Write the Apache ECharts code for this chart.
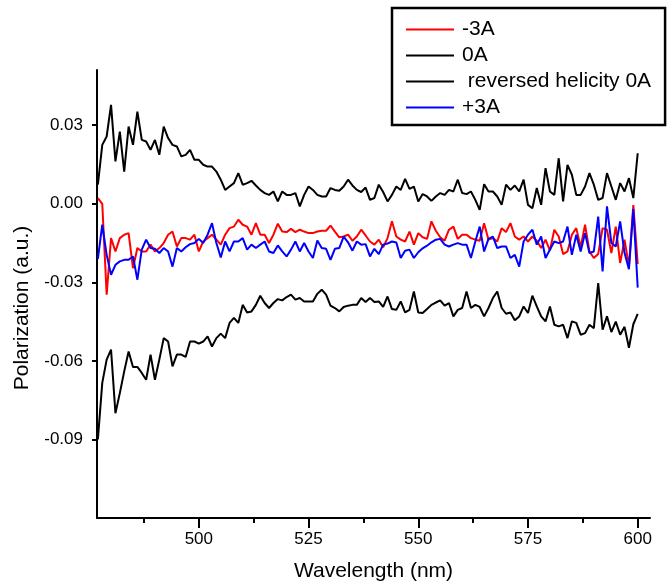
<!DOCTYPE html>
<html>
<head>
<meta charset="utf-8">
<script src="https://cdn.jsdelivr.net/npm/echarts@6/dist/echarts.min.js"></script>
<style>html,body{margin:0;padding:0;background:#fff}#chart{width:668px;height:588px}</style>
</head>
<body>
<div id="chart"></div>
<script>
const wavelengths = [477,478,479,480,481,482,483,484,485,486,487,488,489,490,491,492,493,494,495,496,497,498,499,500,
501,502,503,504,505,506,507,508,509,510,511,512,513,514,515,516,517,518,519,520,521,522,523,524,525,
526,527,528,529,530,531,532,533,534,535,536,537,538,539,540,541,542,543,544,545,546,547,548,549,550,
551,552,553,554,555,556,557,558,559,560,561,562,563,564,565,566,567,568,569,570,571,572,573,574,575,
576,577,578,579,580,581,582,583,584,585,586,587,588,589,590,591,592,593,594,595,596,597,598,599,600];

const minus3A = [0.0022,0.0000,-0.0347,-0.0131,-0.0182,-0.0131,-0.0118,-0.0112,-0.0246,-0.0169,-0.0182,-0.0182,-0.0156,-0.0182,-0.0169,-0.0150,-0.0118,-0.0106,-0.0163,-0.0131,-0.0131,-0.0137,-0.0118,-0.0182,
-0.0144,-0.0131,-0.0118,-0.0137,-0.0156,-0.0118,-0.0093,-0.0087,-0.0061,-0.0080,-0.0087,-0.0118,-0.0074,-0.0118,-0.0118,
-0.0150,-0.0118,-0.0076,-0.0106,-0.0108,-0.0096,-0.0108,-0.0099,-0.0106,-0.0112,-0.0112,-0.0106,-0.0103,-0.0103,-0.0083,-0.0106,-0.0128,-0.0125,-0.0118,-0.0141,-0.0125,-0.0099,-0.0121,-0.0144,-0.0156,-0.0137,-0.0166,-0.0131,-0.0067,-0.0125,-0.0137,-0.0144,-0.0106,-0.0156,-0.0112,-0.0128,-0.0134,-0.0067,
-0.0103,-0.0128,-0.0141,-0.0099,-0.0087,-0.0134,-0.0118,-0.0118,-0.0131,-0.0137,-0.0141,-0.0074,-0.0137,-0.0131,-0.0144,-0.0093,-0.0108,-0.0074,-0.0125,-0.0137,-0.0125,-0.0144,-0.0125,-0.0141,-0.0169,-0.0137,-0.0179,-0.0099,-0.0125,-0.0192,-0.0182,-0.0118,-0.0093,-0.0166,-0.0080,-0.0182,-0.0207,-0.0192,-0.0093,
-0.0099,-0.0188,-0.0087,-0.0226,-0.0137,-0.0239,-0.0005,-0.0230];

const zeroA = [0.0073,0.0225,0.0257,0.0378,0.0162,0.0276,0.0123,0.0295,0.0225,0.0352,0.0244,0.0238,0.0206,0.0244,0.0187,0.0295,0.0251,0.0225,0.0219,0.0181,0.0187,0.0206,0.0168,0.0168,
0.0149,0.0142,0.0142,0.0123,0.0092,0.0053,0.0066,0.0079,0.0117,0.0073,0.0079,0.0088,0.0070,0.0053,0.0041,
0.0034,0.0047,0.0009,0.0047,0.0034,0.0034,0.0041,-0.0010,0.0034,0.0066,0.0053,0.0034,0.0028,0.0028,0.0060,0.0053,0.0050,0.0066,0.0092,0.0070,0.0053,0.0045,0.0062,0.0015,0.0022,0.0073,0.0045,0.0009,0.0034,0.0066,0.0053,0.0095,0.0057,0.0066,0.0009,0.0037,0.0028,0.0011,
0.0028,0.0041,0.0034,0.0053,0.0047,0.0092,0.0041,0.0037,0.0047,0.0015,-0.0023,0.0075,0.0047,0.0047,0.0028,-0.0004,0.0073,0.0053,0.0070,0.0047,0.0092,-0.0004,-0.0017,0.0060,-0.0004,0.0136,0.0047,0.0034,0.0174,0.0009,0.0149,0.0111,0.0034,0.0034,0.0066,0.0117,0.0073,0.0015,0.0022,
0.0117,0.0066,0.0015,0.0079,0.0047,0.0098,0.0022,0.0193];

const reversed0A = [-0.0900,-0.0684,-0.0595,-0.0557,-0.0800,-0.0723,-0.0640,-0.0564,-0.0623,-0.0623,-0.0646,-0.0672,-0.0576,-0.0672,-0.0595,-0.0513,-0.0526,-0.0621,-0.0576,-0.0576,-0.0585,-0.0526,-0.0526,-0.0534,
-0.0526,-0.0506,-0.0545,-0.0513,-0.0496,-0.0513,-0.0455,-0.0436,-0.0455,-0.0386,-0.0415,-0.0411,-0.0386,-0.0351,-0.0379,
-0.0398,-0.0379,-0.0364,-0.0369,-0.0356,-0.0347,-0.0366,-0.0360,-0.0373,-0.0373,-0.0373,-0.0344,-0.0328,-0.0347,-0.0389,-0.0398,-0.0411,-0.0394,-0.0389,-0.0386,-0.0386,-0.0360,-0.0375,-0.0360,-0.0375,-0.0373,-0.0394,-0.0354,-0.0402,-0.0405,-0.0373,-0.0415,-0.0405,-0.0335,-0.0415,-0.0417,-0.0402,-0.0386,
-0.0377,-0.0369,-0.0389,-0.0379,-0.0430,-0.0405,-0.0398,-0.0335,-0.0398,-0.0386,-0.0394,-0.0430,-0.0398,-0.0360,-0.0335,-0.0398,-0.0420,-0.0415,-0.0445,-0.0430,-0.0392,-0.0417,-0.0351,-0.0392,-0.0430,-0.0449,-0.0392,-0.0462,-0.0468,-0.0462,-0.0513,-0.0449,-0.0455,-0.0500,-0.0494,-0.0462,-0.0475,-0.0303,-0.0481,
-0.0430,-0.0490,-0.0450,-0.0500,-0.0470,-0.0550,-0.0460,-0.0420];

const plus3A = [-0.0210,-0.0080,-0.0195,-0.0271,-0.0233,-0.0220,-0.0214,-0.0214,-0.0201,-0.0290,-0.0175,-0.0137,-0.0169,-0.0172,-0.0188,-0.0169,-0.0182,-0.0240,-0.0169,-0.0182,-0.0166,-0.0154,-0.0150,-0.0134,
-0.0150,-0.0118,-0.0074,-0.0150,-0.0205,-0.0144,-0.0182,-0.0144,-0.0144,-0.0131,-0.0175,-0.0156,-0.0169,-0.0156,-0.0144,
-0.0182,-0.0188,-0.0159,-0.0182,-0.0201,-0.0175,-0.0144,-0.0182,-0.0150,-0.0182,-0.0207,-0.0140,-0.0169,-0.0172,-0.0214,-0.0172,-0.0169,-0.0125,-0.0147,-0.0179,-0.0144,-0.0156,-0.0154,-0.0201,-0.0172,-0.0192,-0.0156,-0.0152,-0.0144,-0.0148,-0.0207,-0.0179,-0.0175,-0.0207,-0.0185,-0.0170,-0.0160,-0.0147,
-0.0137,-0.0134,-0.0156,-0.0163,-0.0156,-0.0150,-0.0156,-0.0156,-0.0207,-0.0144,-0.0087,-0.0182,-0.0134,-0.0125,-0.0169,-0.0163,-0.0163,-0.0207,-0.0195,-0.0240,-0.0144,-0.0118,-0.0099,-0.0156,-0.0125,-0.0207,-0.0175,-0.0144,-0.0150,-0.0144,-0.0087,-0.0195,-0.0118,-0.0182,-0.0112,-0.0188,-0.0182,-0.0049,-0.0258,
-0.0010,-0.0150,-0.0163,-0.0067,-0.0188,-0.0250,-0.0020,-0.0320];

const xMajorTicks = [500, 525, 550, 575, 600];
const xMinorTicks = [487.5, 512.5, 537.5, 562.5, 587.5];
const yTicks = [-0.09, -0.06, -0.03, 0.00, 0.03];

const FONT = '"Liberation Sans", Arial, sans-serif';
const pair = arr => wavelengths.map((w, i) => [w, arr[i]]);

const chart = echarts.init(document.getElementById('chart'), null, {renderer: 'canvas'});
chart.setOption({
  animation: false,
  backgroundColor: '#fff',
  grid: {left: 97, right: 18, top: 70, bottom: 70},
  legend: {
    orient: 'vertical', left: 392, top: 8,
    padding: [11, 14, 7, 14], itemGap: 5,
    itemWidth: 48, itemHeight: 2, icon: 'rect',
    borderColor: '#000', borderWidth: 2.5,
    textStyle: {fontSize: 21, color: '#000', fontFamily: FONT, padding: [0, 0, 0, 3]},
    data: ['-3A', '0A', ' reversed helicity 0A', '+3A']
  },
  xAxis: [{
    type: 'value', min: 476.8, max: 602.8, position: 'bottom',
    name: 'Wavelength (nm)', nameLocation: 'middle', nameGap: 43,
    nameTextStyle: {fontSize: 21, color: '#000', fontFamily: FONT},
    axisLine: {show: true, onZero: false, lineStyle: {color: '#000', width: 2}},
    axisTick: {show: true, length: 10, customValues: xMajorTicks, lineStyle: {color: '#000', width: 2}},
    axisLabel: {customValues: xMajorTicks, fontSize: 17, color: '#000', fontFamily: FONT, margin: 13},
    splitLine: {show: false}
  }, {
    type: 'value', min: 476.8, max: 602.8, position: 'bottom', gridIndex: 0,
    axisLine: {show: false, onZero: false},
    axisTick: {show: true, length: 5, customValues: xMinorTicks, lineStyle: {color: '#000', width: 2}},
    axisLabel: {show: false},
    splitLine: {show: false}
  }],
  yAxis: {
    type: 'value', min: -0.12, max: 0.0511,
    name: 'Polarization (a.u.)', nameLocation: 'middle', nameGap: 64,
    nameTextStyle: {fontSize: 21, color: '#000', fontFamily: FONT, padding: [0, 28, 0, 0]},
    axisLine: {show: true, onZero: false, lineStyle: {color: '#000', width: 2}},
    axisTick: {show: true, length: 5, customValues: yTicks, lineStyle: {color: '#000', width: 2}},
    axisLabel: {customValues: yTicks, fontSize: 17, color: '#000', fontFamily: FONT, margin: 14,
      formatter: v => v.toFixed(2)},
    splitLine: {show: false}
  },
  series: [
    {name: '-3A', type: 'line', data: pair(minus3A), showSymbol: false, color: '#ff0000', lineStyle: {width: 2}},
    {name: '0A', type: 'line', data: pair(zeroA), showSymbol: false, color: '#000000', lineStyle: {width: 2}},
    {name: ' reversed helicity 0A', type: 'line', data: pair(reversed0A), showSymbol: false, color: '#000000', lineStyle: {width: 2}},
    {name: '+3A', type: 'line', data: pair(plus3A), showSymbol: false, color: '#0000ff', lineStyle: {width: 2}}
  ]
});
</script>
</body>
</html>
